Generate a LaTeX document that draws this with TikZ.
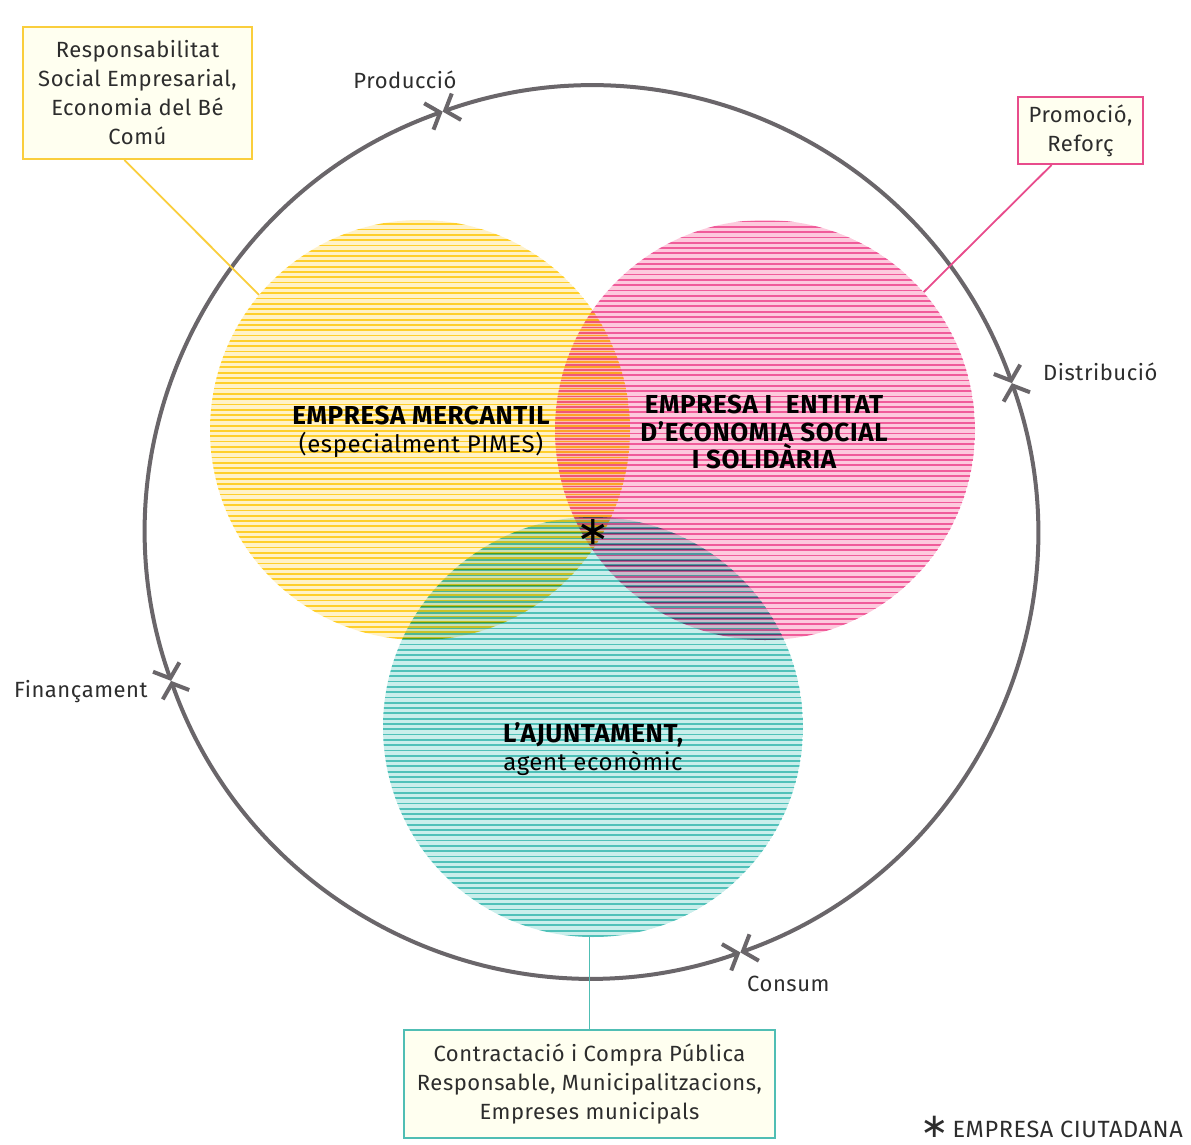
\documentclass[tikz,border=0pt]{standalone}
\usepackage{fontspec}
\setmainfont{Fira Sans}[LetterSpace=2.5]
\newfontfamily\symfont{DejaVu Sans}
\usetikzlibrary{arrows.meta}
\definecolor{ybg}{RGB}{255,242,200}
\definecolor{ystr}{rgb}{1,0.86,0.22}
\definecolor{pbg}{RGB}{253,202,221}
\definecolor{pstr}{rgb}{0.95,0.46,0.70}
\definecolor{tbg}{RGB}{202,238,235}
\definecolor{tstr}{rgb}{0.40,0.81,0.79}
\definecolor{ring}{RGB}{106,102,106}
\definecolor{txt}{RGB}{45,45,45}
\definecolor{yline}{RGB}{250,206,60}
\definecolor{pline}{RGB}{232,76,140}
\definecolor{tline}{RGB}{80,190,180}
\definecolor{boxfill}{RGB}{255,255,240}
\newcommand\stripedisc[5]{%
  \begin{scope}
    \clip (#1,#2) circle[radius=210];
    \fill[#3] (#1,#2) circle[radius=210];
    \foreach \k in {0,...,80}{\fill[#4] (#1-212,#2-212+#5+\k*5.3) rectangle ++(424,1.8);}
  \end{scope}}
\newcommand\bt[1]{{\fontsize{26}{27.5}\selectfont\bfseries #1}}
\begin{document}
\begin{tikzpicture}[x=1pt,y=-1pt,
  disc/.style={circle,minimum size=420pt,inner sep=0pt},
  arcline/.style={draw=ring,line width=4pt,{Straight Barb[length=12pt,width=28pt]}-{Straight Barb[length=12pt,width=28pt]}},
  lbl/.style={text=txt,font=\fontsize{22}{29}\selectfont,inner sep=0pt},
  infobox/.style={fill=boxfill,line width=2pt,align=center,text=txt,font=\fontsize{22}{29}\selectfont,inner sep=0pt},
  title/.style={align=center,text=black,font=\fontsize{24}{27.5}\selectfont,inner sep=0pt},
  conn/.style={line width=1.8pt}]
\useasboundingbox (0,0) rectangle (1191,1144);
\fill[white] (0,0) rectangle (1191,1144);
\begin{scope}[blend mode=multiply]
  \stripedisc{420}{430}{ybg}{ystr}{0}
  \stripedisc{765}{430}{pbg}{pstr}{2.6}
  \stripedisc{593}{727}{tbg}{tstr}{1.3}
\end{scope}
\node[disc] (Y) at (420,430) {};
\node[disc] (P) at (765,430) {};
\node[disc] (T) at (593,727) {};

% outer cycle
\coordinate (O) at (591.5,532);
\path (O) ++(-109.5:446) coordinate (mP);
\path (O) ++(-19.5:446) coordinate (mD);
\path (O) ++(70.5:446) coordinate (mC);
\path (O) ++(160.5:446) coordinate (mF);
\draw[arcline] (mP) arc[start angle=-109.5,end angle=-19.5,radius=446];
\draw[arcline] (mD) arc[start angle=-19.5,end angle=70.5,radius=446];
\draw[arcline] (mC) arc[start angle=70.5,end angle=160.5,radius=446];
\draw[arcline] (mF) arc[start angle=160.5,end angle=250.5,radius=446];

\node[lbl] (lP) at (405,80) {Producció};
\node[lbl,anchor=west] (lD) at (1043,372) {Distribució};
\node[lbl,anchor=west] (lF) at (14,692) {Finançament};
\node[lbl,anchor=west] (lC) at (747,984) {Consum};

% boxes
\node[infobox,draw=yline,minimum width=229pt,minimum height=132pt] (yb) at (137.5,93) {Responsabilitat\\Social Empresarial,\\Economia del Bé\\Comú};
\node[infobox,draw=pline,minimum width=125pt,minimum height=67pt] (pb) at (1080.5,130.5) {Promoció,\\Reforç};
\node[infobox,draw=tline,minimum width=371pt,minimum height=108pt] (tb) at (589.5,1084) {Contractació i Compra Pública\\Responsable, Municipalitzacions,\\Empreses municipals};
\draw[conn,draw=yline] (yb.259) -- (Y.140);
\draw[conn,draw=pline] (pb.230) -- (P.41);
\draw[conn,draw=tline] (tb.north) -- (tb.north |- T.south);

% titles
\node[title] (tY) at (421,432) {\bt{EMPRESA MERCANTIL}\\(especialment PIMES)};
\node[title] (tP) at (764,432) {\bt{EMPRESA I~ ENTITAT}\\\bt{D’ECONOMIA SOCIAL}\\\bt{I SOLIDÀRIA}};
\node[title] (tT) at (593,749) {\bt{L’AJUNTAMENT,}\\agent econòmic};
\node[inner sep=0pt,font=\symfont\fontsize{40}{40}\selectfont] (ast) at (593,532) {∗};
\node[lbl,anchor=base east,font=\fontsize{23.5}{26}\selectfont] (ec) at (1183,1137) {{\symfont\fontsize{34}{26}\selectfont ∗}\,EMPRESA CIUTADANA};
\end{tikzpicture}
\end{document}
